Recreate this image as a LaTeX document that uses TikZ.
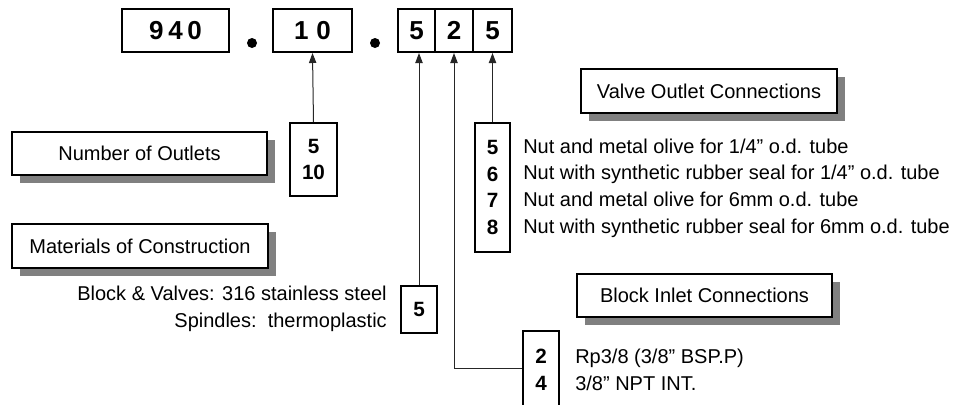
\documentclass[tikz,border=0pt]{standalone}
\usepackage{fontspec}
\setmainfont{Liberation Sans}
\usetikzlibrary{arrows.meta,shadows}
\definecolor{shad}{RGB}{128,128,128}
\begin{document}
\begin{tikzpicture}[x=0.75pt,y=-0.75pt,
  topbox/.style={draw, line width=1.5pt, minimum height=32.25pt, inner sep=0pt, font=\fontsize{19.5}{21}\selectfont\bfseries},
  numbox/.style={draw, line width=1.5pt, inner sep=0pt, align=center, font=\fontsize{15.5}{20}\selectfont\bfseries},
  labbox/.style={draw, line width=1.2pt, fill=white, inner sep=0pt, font=\fontsize{15}{18}\selectfont,
     drop shadow={shadow xshift=6pt, shadow yshift=-6pt, fill=shad, opacity=1}},
  desc/.style={inner sep=0pt, font=\fontsize{15}{20}\selectfont},
  dotn/.style={circle, fill=black, inner sep=0pt, minimum size=7.5pt},
  conn/.style={line width=0.75pt, draw=black!85},
  arr/.style={conn, -{Triangle[length=7.5pt,width=5.5pt]}}]
\useasboundingbox (0,0) rectangle (964,404);
\clip (0,0) rectangle (964,404);
% top code
\node[topbox, minimum width=80.25pt] (c940) at (175.5,30.5) {9\hspace{3.5pt}4\hspace{3.5pt}0};
\node[dotn] (d1) at (252,43) {};
\node[topbox, minimum width=59.25pt] (c10) at (312.5,30.5) {1\hspace{6pt}0};
\node[dotn] (d2) at (375,43) {};
\node[topbox, minimum width=27.75pt] (ca) at (416.5,30.5) {5};
\node[topbox, minimum width=28.5pt] (cb) at (454,30.5) {2};
\node[topbox, minimum width=29.25pt] (cc) at (492.5,30.5) {5};
% option boxes
\node[numbox, minimum width=35.25pt, minimum height=54.75pt] (b10) at (313.5,159.5) {5\\10};
\node[numbox, minimum width=26.25pt, minimum height=96.75pt] (bv) at (492.5,187.5) {5\\6\\7\\8};
\node[numbox, minimum width=27pt, minimum height=35.25pt] (bm) at (419,309.5) {5};
\node[numbox, minimum width=27pt, minimum height=59pt] (bi) at (541,370) {2\\4};
% label boxes
\node[labbox, minimum width=191.25pt, minimum height=32.25pt] (lno) at (139.5,153.5) {Number of Outlets};
\node[labbox, minimum width=192pt, minimum height=33pt] (lmc) at (140,246) {Materials of Construction};
\node[labbox, minimum width=192pt, minimum height=33pt] (lvo) at (709,91) {Valve Outlet Connections};
\node[labbox, minimum width=191.25pt, minimum height=32.25pt] (lbi) at (704.5,295.5) {Block Inlet Connections};
% descriptions
\node[desc, anchor=west, align=left] (tv) at (523,188) {Nut and metal olive for 1/4” o.d. tube\\Nut with synthetic rubber seal for 1/4” o.d. tube\\Nut and metal olive for 6mm o.d. tube\\Nut with synthetic rubber seal for 6mm o.d. tube};
\node[desc, anchor=east, align=right] (tm) at (387,309) {Block \& Valves: 316 stainless steel\\Spindles:\ \ thermoplastic};
\node[desc, anchor=west, align=left] (ti) at (575,370) {Rp3/8 (3/8” BSP.P)\\3/8” NPT INT.};
% connectors
\coordinate (bend) at (454,368);
\draw[arr] (b10.north) -- (c10.south);
\draw[arr] (bm.north) -- (bm.north |- ca.south);
\draw[arr] (bi.west |- bend) -- (bend) -- (cb.south);
\draw[arr] (bv.north) -- (cc.south);
\end{tikzpicture}
\end{document}
